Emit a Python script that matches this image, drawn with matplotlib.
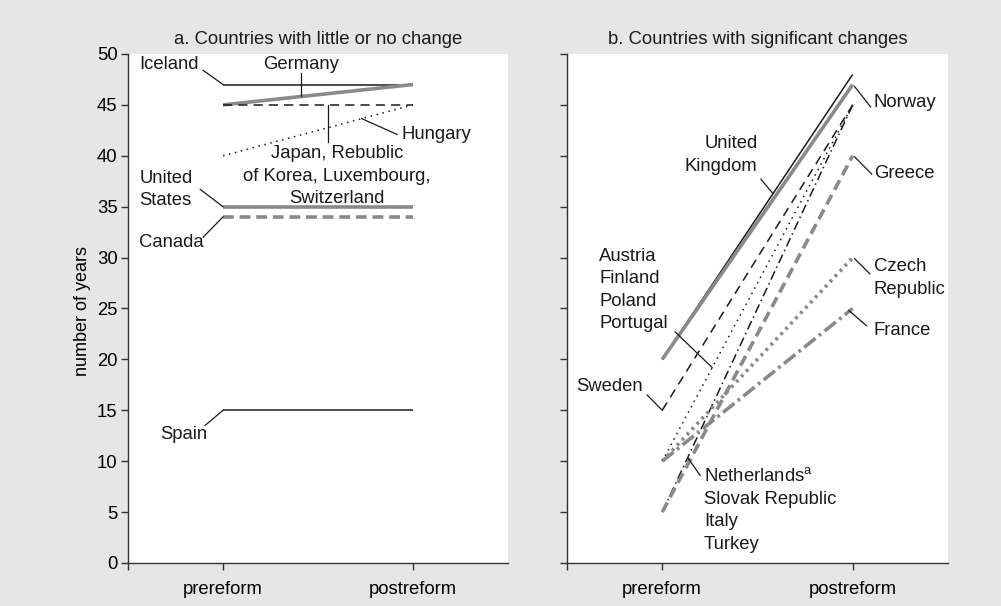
import matplotlib
matplotlib.use("Agg")
import matplotlib.pyplot as plt

plt.rcParams['font.family'] = ['Liberation Sans', 'DejaVu Sans']
plt.rcParams['mathtext.fontset'] = 'custom'
plt.rcParams['mathtext.rm'] = 'Liberation Sans'

stages = ["prereform", "postreform"]

# panel a: little or no change
names_a = ["Iceland", "Germany", "Japan, Rebublic\nof Korea, Luxembourg,\nSwitzerland",
           "Hungary", "United\nStates", "Canada", "Spain"]
pre_a = [47, 45, 45, 40, 35, 34, 15]
post_a = [47, 47, 45, 45, 35, 34, 15]

# panel b: significant changes
names_b = ["United\nKingdom", "Norway", "Sweden", "Austria\nFinland\nPoland\nPortugal",
           "Netherlands$^{\\mathrm{a}}$\nSlovak Republic\nItaly\nTurkey",
           "Greece", "Czech\nRepublic", "France"]
pre_b = [20, 20, 15, 10, 5, 5, 10, 10]
post_b = [48, 47, 45, 45, 45, 40, 30, 25]

BLACK = '#1a1a1a'
GREY = '#8a8a8a'
BG = '#e6e6e6'
FS = 13.3

thin = dict(color=BLACK, lw=1.1)
thick = dict(color=GREY, lw=2.6)

styles_a = [
    dict(thin, ls='-'),
    dict(thick, ls='-'),
    dict(thin, ls=(0, (6, 4))),
    dict(thin, ls=(0, (1, 3))),
    dict(thick, ls='-'),
    dict(thick, ls=(0, (3, 1.6))),
    dict(thin, ls='-'),
]
styles_b = [
    dict(thin, ls='-'),
    dict(thick, ls='-'),
    dict(thin, ls=(0, (6, 4))),
    dict(thin, ls=(0, (1, 3))),
    dict(thin, ls=(0, (6, 2.5, 1, 2.5))),
    dict(thick, ls=(0, (3, 1.6))),
    dict(thick, ls=(0, (0.8, 1.2))),
    dict(thick, ls=(0, (4, 1.2, 0.8, 1.2))),
]

# label text position, connector start, connector end, alignment
labels_a = [
    ((-0.44, 49.0), (-0.105, 48.4), (0.0, 47.0), 'left'),
    ((0.41, 49.0), (0.41, 48.1), (0.41, 45.85), 'center'),
    ((0.60, 38.0), (0.553, 41.4), (0.553, 45.0), 'center'),
    ((0.94, 42.1), (0.916, 42.1), (0.73, 43.65), 'left'),
    ((-0.44, 36.7), (-0.12, 36.7), (0.0, 35.0), 'left'),
    ((-0.44, 31.5), (-0.105, 32.0), (0.0, 34.0), 'left'),
    ((-0.33, 12.6), (-0.095, 13.5), (0.0, 15.0), 'left'),
]
labels_b = [
    ((0.50, 40.1), (0.518, 37.7), (0.581, 36.3), 'right'),
    ((1.11, 45.2), (1.094, 44.8), (1.01, 46.8), 'left'),
    ((-0.45, 17.3), (-0.079, 16.5), (0.0, 15.0), 'left'),
    ((-0.33, 26.8), (0.068, 22.7), (0.262, 19.2), 'left'),
    ((0.22, 5.2), (0.199, 8.6), (0.136, 10.3), 'left'),
    ((1.11, 38.3), (1.10, 38.2), (1.01, 39.9), 'left'),
    ((1.11, 28.0), (1.09, 28.4), (1.01, 29.9), 'left'),
    ((1.11, 22.8), (1.073, 23.3), (0.98, 24.8), 'left'),
]

fig = plt.figure(figsize=(10.01, 6.06), dpi=100, facecolor=BG)
ax_a = fig.add_axes([0.1279, 0.0710, 0.3796, 0.8399])
ax_b = fig.add_axes([0.5664, 0.0710, 0.3806, 0.8399])


def draw_panel(ax, names, pre, post, styles, labels, title):
    for name, y0, y1, st in zip(names, pre, post, styles):
        ax.plot([0, 1], [y0, y1], solid_capstyle='butt', dash_capstyle='butt', **st)
    for name, (tpos, cstart, cend, ha) in zip(names, labels):
        ax.text(tpos[0], tpos[1], name, ha=ha, va='center', fontsize=FS,
                color=BLACK, linespacing=1.42)
        ax.plot([cstart[0], cend[0]], [cstart[1], cend[1]], color=BLACK, lw=0.9)
    ax.set_xlim(-0.5, 1.5)
    ax.set_ylim(0, 50)
    ax.set_xticks([0, 1])
    ax.set_xticklabels(stages)
    ax.set_xticks([-0.5], minor=True)
    ax.set_yticks(range(0, 51, 5))
    for s in ['top', 'right']:
        ax.spines[s].set_visible(False)
    for s in ['left', 'bottom']:
        ax.spines[s].set_color('#333333')
        ax.spines[s].set_linewidth(1.0)
    ax.tick_params(axis='x', which='both', direction='out', length=5, width=1,
                   color='#333333', pad=8, labelsize=FS)
    ax.tick_params(axis='y', direction='out', length=5, width=1,
                   color='#333333', pad=2.5, labelsize=FS)
    ax.set_facecolor('white')
    ax.set_title(title, fontsize=FS, pad=7, color=BLACK)


draw_panel(ax_a, names_a, pre_a, post_a, styles_a, labels_a,
           "a. Countries with little or no change")
draw_panel(ax_b, names_b, pre_b, post_b, styles_b, labels_b,
           "b. Countries with significant changes")
ax_b.set_yticklabels([])
ax_a.set_ylabel("number of years", fontsize=13)
ax_a.yaxis.set_label_coords(-0.098, 0.495)

fig.savefig("out.png", dpi=100, facecolor=BG)
